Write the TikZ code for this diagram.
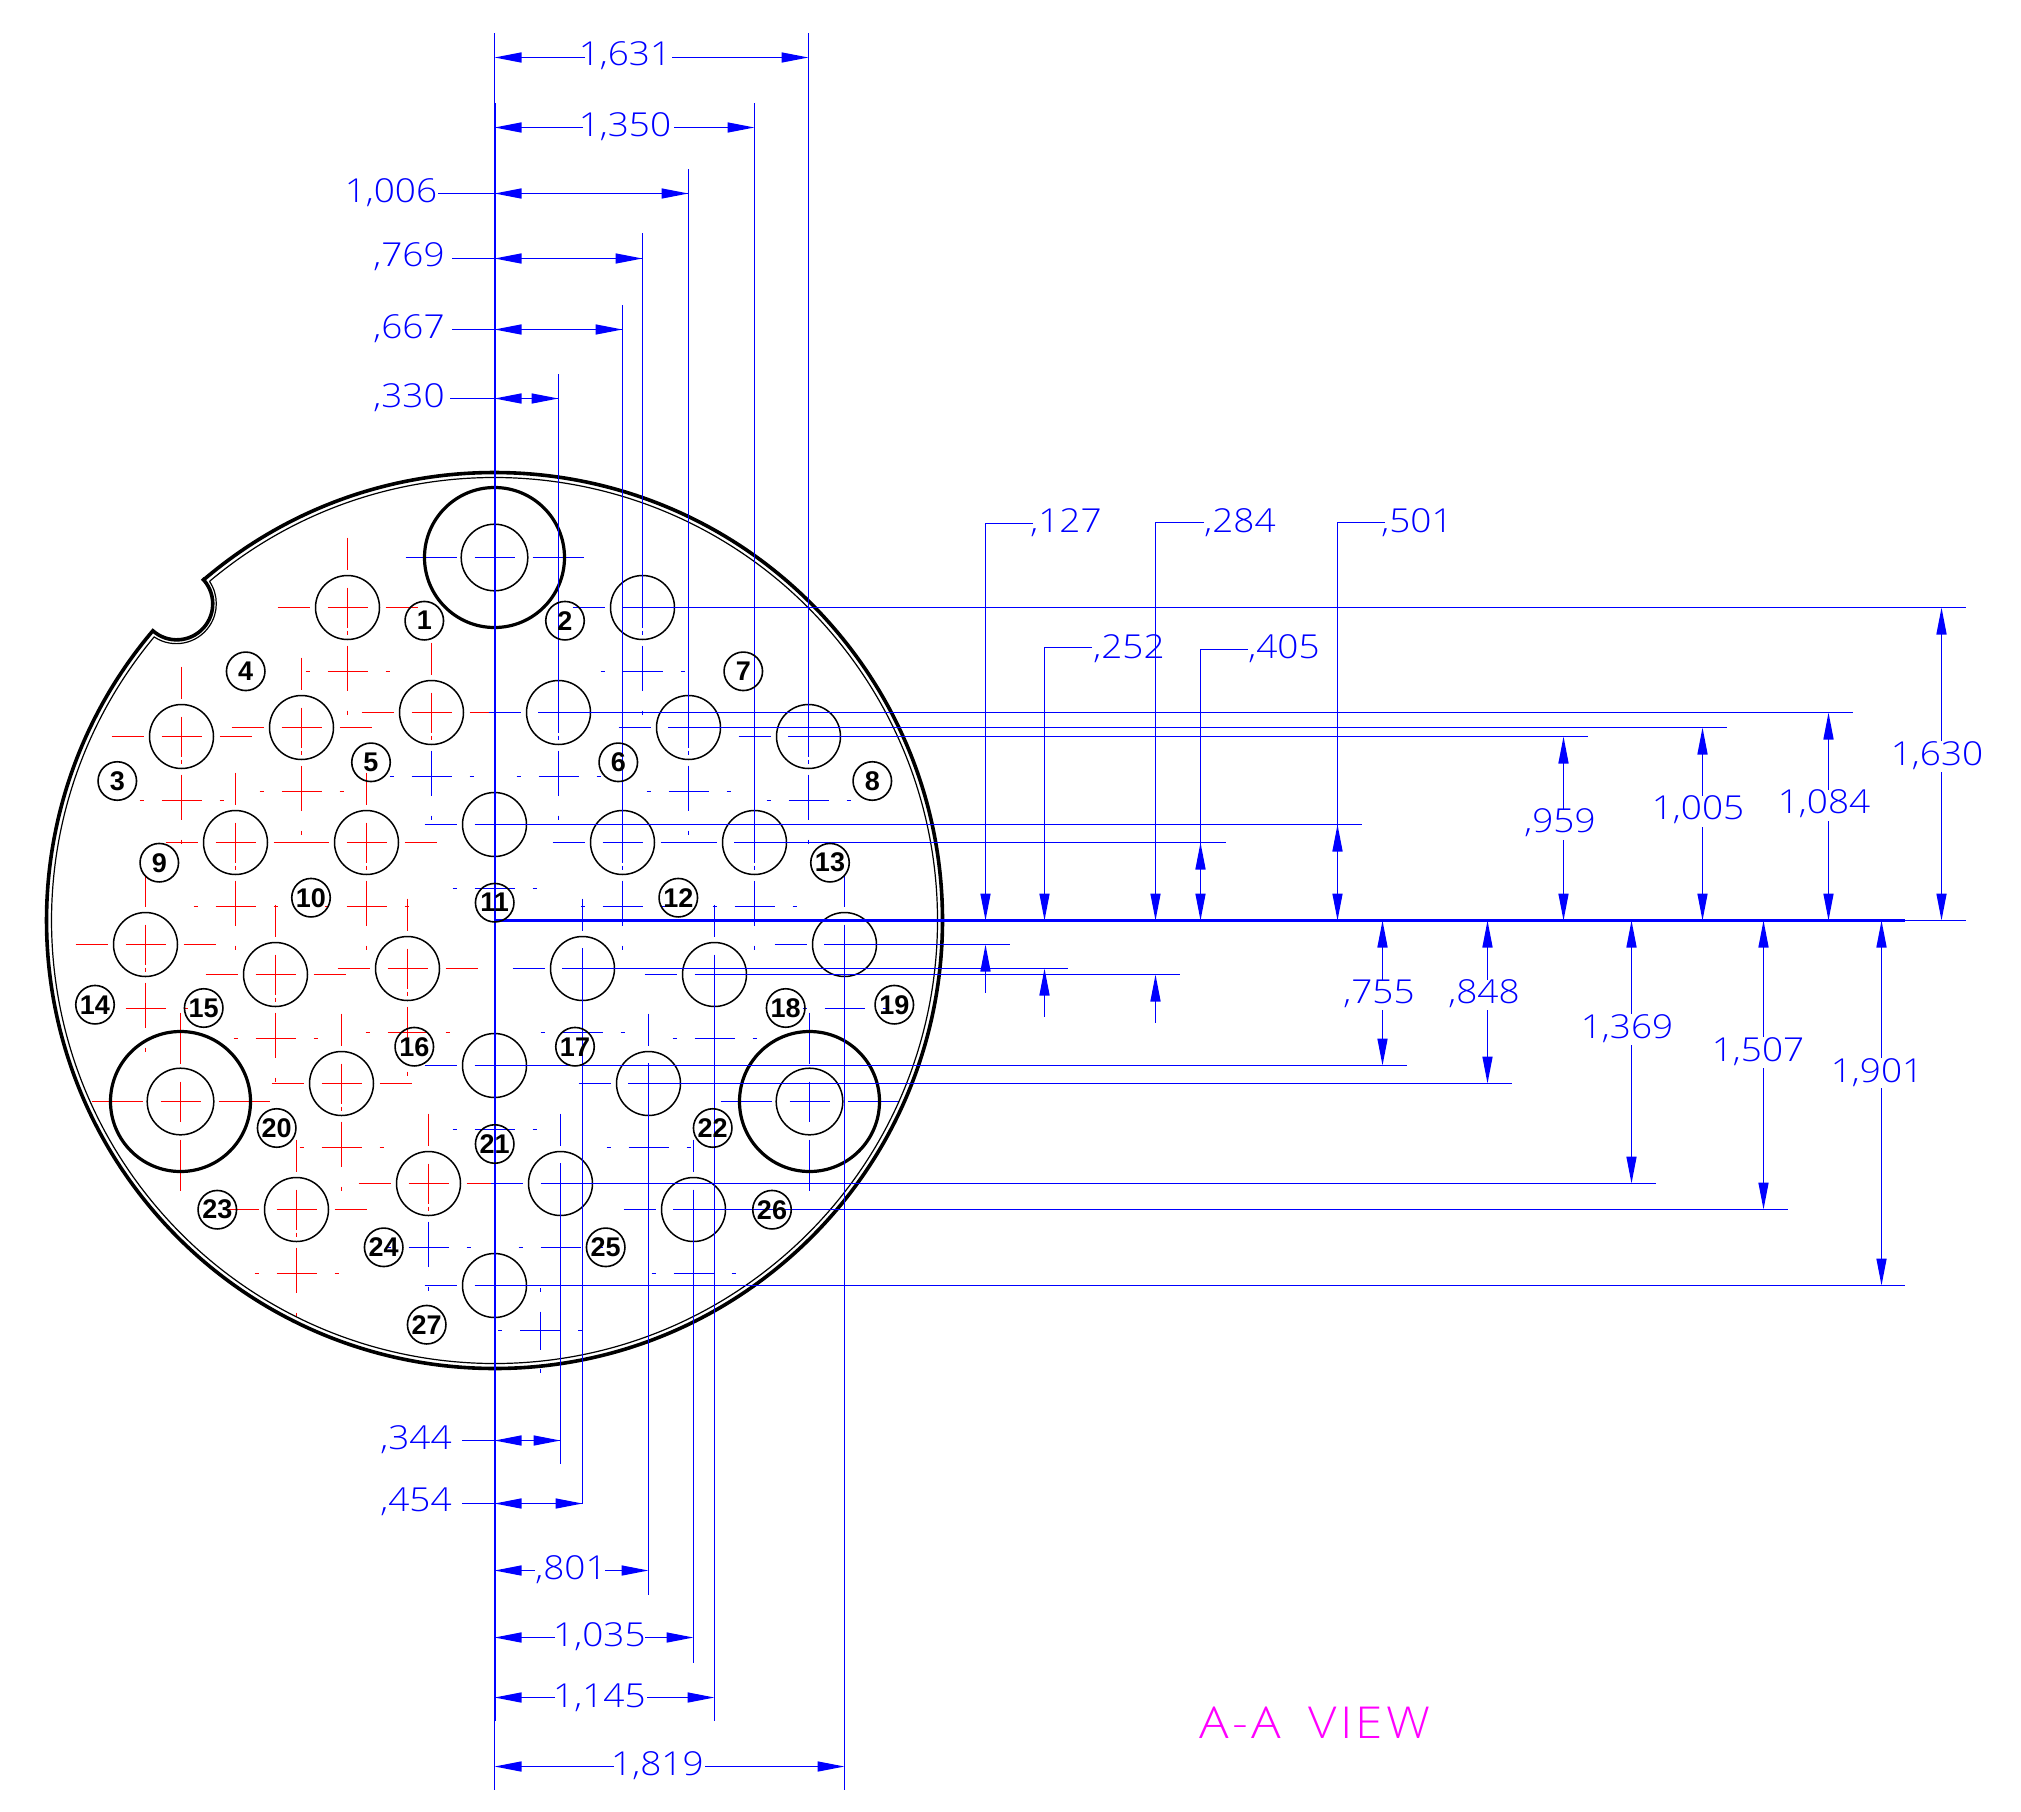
\documentclass[tikz,border=0pt]{standalone}
\usepackage{fontspec}
\usetikzlibrary{arrows.meta}
\newfontfamily\cadf{Open Sans Light}[FakeStretch=1.12]
\newfontfamily\viewf{Open Sans Light}[FakeStretch=1.12,LetterSpace=7]
\newfontfamily\numf{Liberation Sans}
\definecolor{dimblue}{RGB}{0,0,255}
\definecolor{markred}{RGB}{255,0,0}
\definecolor{viewmag}{RGB}{255,0,255}
\tikzset{
  dimline/.style={draw=dimblue,line width=1.5pt},
  tiptri/.style={-{Triangle[length=27pt,width=10pt]}},
  redmark/.style={draw=markred,line width=1.3pt},
  bluemark/.style={draw=dimblue,line width=1.3pt},
  holeline/.style={draw=black,line width=1.5pt},
  ringline/.style={draw=black,line width=3.2pt},
  dimlab/.style={inner sep=0pt,anchor=base,text=dimblue,font=\cadf\fontsize{33}{33}\selectfont},
  numlab/.style={draw=black,line width=1.6pt,circle,minimum size=38.5pt,inner sep=0pt,font=\numf\bfseries\fontsize{27}{27}\selectfont}
}
\newcommand\primarymark[3]{\draw[#3] (#1-70,#2)--(#1-38,#2) (#1+38,#2)--(#1+70,#2) (#1-20,#2)--(#1+20,#2)
  (#1,#2-70)--(#1,#2-38) (#1,#2-20)--(#1,#2+20) (#1,#2+23)--(#1,#2+27);}
\newcommand\lowermark[3]{\draw[#3] (#1,#2+38)--(#1,#2+83) (#1,#2+103)--(#1,#2+107)
  (#1-20,#2+64)--(#1+20,#2+64) (#1-42,#2+64)--(#1-38,#2+64) (#1+38,#2+64)--(#1+42,#2+64);}
\newcommand\ringmark[3]{\draw[#3] (#1-89,#2)--(#1-38,#2) (#1+38,#2)--(#1+89,#2) (#1-20,#2)--(#1+20,#2)
  (#1,#2-89)--(#1,#2-38) (#1,#2+38)--(#1,#2+89) (#1,#2-20)--(#1,#2+20);}
% vertical dimension: x, tip1, end of part 1, start of part 2, tip2
\newcommand\vdim[5]{\draw[dimline,tiptri] (#1,#3)--(#1,#2); \draw[dimline,tiptri] (#1,#4)--(#1,#5);}
\newcommand\hdim[5]{\draw[dimline,tiptri] (#3,#1)--(#2,#1); \draw[dimline,tiptri] (#4,#1)--(#5,#1);}
\newcommand\dimlabel[4]{\node[dimlab] (#1) at (#2,#3+12) {#4};}
\begin{document}
\begin{tikzpicture}[x=1pt,y=1pt,yscale=-1]
\useasboundingbox (0,0) rectangle (2021,1812);
\fill[white] (0,0) rectangle (2021,1812);

% centre marks
\foreach \x/\y in {347.5/607.5,301.5/727.5,181.5/736.5,235.5/842.5,366.5/842.5,145.5/944.5,275.5/974.5,407.5/968.5,341.5/1083.5,296.5/1209.5}{
  \primarymark{\x}{\y}{redmark}\lowermark{\x}{\y}{redmark}}
\foreach \x/\y in {431.5/712.5,428.5/1183.5}{
  \primarymark{\x}{\y}{redmark}\lowermark{\x}{\y}{bluemark}}
\foreach \x/\y in {494.5/824.5,494.5/1065.5,642.5/607.5,558.5/712.5,688.5/727.5,808.5/736.5,622.5/842.5,754.5/842.5,844.5/944.5,582.5/968.5,714.5/974.5,648.5/1083.5,560.5/1183.5,693.5/1209.5}{
  \primarymark{\x}{\y}{bluemark}\lowermark{\x}{\y}{bluemark}}
\primarymark{494.5}{1285.5}{bluemark}
\draw[bluemark] (540.5,1288)--(540.5,1292) (540.5,1311.7)--(540.5,1350) (540.5,1368.7)--(540.5,1372.7)
  (520,1330.5)--(560,1330.5) (498,1330.5)--(502,1330.5) (578,1330.5)--(582,1330.5);
\ringmark{180.5}{1101.5}{redmark}
\ringmark{494.5}{557.5}{bluemark}
\ringmark{809.5}{1101.5}{bluemark}

% plate outline
\draw[black,line width=3.6pt,line join=miter] (494.5,920.5)+(229.6:448) arc[start angle=229.6,end angle=580.3,radius=448]
  arc[start angle=131.6,end angle=-45,radius=36];
\draw[black,line width=1.2pt] (494.5,920.5)+(230:443) arc[start angle=230,end angle=579.8,radius=443]
  arc[start angle=123.6,end angle=-34,radius=40];

% holes
\foreach \x/\y in {347.5/607.5,431.5/712.5,301.5/727.5,181.5/736.5,235.5/842.5,366.5/842.5,494.5/824.5,642.5/607.5,558.5/712.5,688.5/727.5,808.5/736.5,622.5/842.5,754.5/842.5,844.5/944.5,145.5/944.5,275.5/974.5,407.5/968.5,341.5/1083.5,494.5/1065.5,428.5/1183.5,296.5/1209.5,494.5/1285.5,582.5/968.5,714.5/974.5,648.5/1083.5,560.5/1183.5,693.5/1209.5}{
  \draw[holeline] (\x,\y) circle (32);}
\foreach \x/\y in {494.5/557.5,180.5/1101.5,809.5/1101.5}{
  \draw[ringline] (\x,\y) circle (70);
  \draw[holeline] (\x,\y) circle (33.3);}

% datum lines
\draw[dimline] (494.5,33)--(494.5,1790);
\draw[dimblue,line width=2.4pt] (494.8,103)--(494.8,1721);
\draw[dimline] (494.5,920.5)--(1966,920.5);
\draw[dimblue,line width=2.2pt] (494.5,920.5)--(1905,920.5);

% vertical extension lines
\draw[dimline] (808.5,33)--(808.5,756) (754.5,103)--(754.5,862) (688.5,169)--(688.5,747) (642.5,233)--(642.5,627)
  (622.5,305)--(622.5,862) (558.5,374)--(558.5,732)
  (560.5,1163)--(560.5,1464) (582.5,948)--(582.5,1503) (648.5,1063)--(648.5,1594.5)
  (693.5,1190)--(693.5,1663) (714.5,955)--(714.5,1721) (844.5,925)--(844.5,1790);
% horizontal extension lines
\draw[dimline] (622,607.5)--(1966,607.5) (538,712.5)--(1853,712.5) (668,727.5)--(1727,727.5) (788,736.5)--(1588,736.5)
  (475,824.5)--(1362,824.5) (734,842.5)--(1226,842.5) (824,944.5)--(1010,944.5) (562,968.5)--(1068,968.5)
  (695,974.5)--(1180,974.5) (475,1065.5)--(1407,1065.5) (628,1083.5)--(1512,1083.5)
  (541,1183.5)--(1656,1183.5) (673,1209.5)--(1787.5,1209.5) (475,1285.5)--(1905,1285.5);

% top dimensions
\hdim{57.5}{494.5}{585}{672}{808.5}
\hdim{127.5}{494.5}{583}{674}{754.5}
\draw[dimline,tiptri] (688.5,193.5)--(494.5,193.5); \draw[dimline,tiptri] (494.5,193.5)--(688.5,193.5);
\draw[dimline] (438,193.5)--(494.5,193.5);
\draw[dimline,tiptri] (642.5,258.5)--(494.5,258.5); \draw[dimline,tiptri] (494.5,258.5)--(642.5,258.5);
\draw[dimline] (452,258.5)--(494.5,258.5);
\draw[dimline,tiptri] (622.5,329.5)--(494.5,329.5); \draw[dimline,tiptri] (494.5,329.5)--(622.5,329.5);
\draw[dimline] (452,329.5)--(494.5,329.5);
\draw[dimline,tiptri] (558.5,398.5)--(494.5,398.5); \draw[dimline,tiptri] (494.5,398.5)--(558.5,398.5);
\draw[dimline] (450,398.5)--(494.5,398.5);
\dimlabel{d1631}{625}{53}{1,631}
\dimlabel{d1350}{625}{124}{1,350}
\dimlabel{d1006}{391}{190}{1,006}
\dimlabel{d769}{409}{254}{,769}
\dimlabel{d667}{409}{326}{,667}
\dimlabel{d330}{409}{395}{,330}

% bottom dimensions
\draw[dimline,tiptri] (560.5,1440.5)--(494.5,1440.5); \draw[dimline,tiptri] (494.5,1440.5)--(560.5,1440.5);
\draw[dimline] (462,1440.5)--(494.5,1440.5);
\draw[dimline,tiptri] (582.5,1503.5)--(494.5,1503.5); \draw[dimline,tiptri] (494.5,1503.5)--(582.5,1503.5);
\draw[dimline] (462,1503.5)--(494.5,1503.5);
\hdim{1570.5}{494.5}{535}{605}{648.5}
\hdim{1637.5}{494.5}{555}{645}{693.5}
\hdim{1697.5}{494.5}{555}{647}{714.5}
\hdim{1766.5}{494.5}{614}{705}{844.5}
\dimlabel{d344}{416}{1437}{,344}
\dimlabel{d454}{416}{1499}{,454}
\dimlabel{d801}{571}{1567.5}{,801}
\dimlabel{d1035}{599.4}{1634.5}{1,035}
\dimlabel{d1145}{599.4}{1695}{1,145}
\dimlabel{d1819}{657.4}{1763}{1,819}

% leader dimensions
\draw[dimline,tiptri] (1033,523.5)--(985.5,523.5)--(985.5,920.5);
\draw[dimline,tiptri] (985.5,992.5)--(985.5,944.5);
\draw[dimline,tiptri] (1092,647.5)--(1044.5,647.5)--(1044.5,920.5);
\draw[dimline,tiptri] (1044.5,1016.8)--(1044.5,968.5);
\draw[dimline,tiptri] (1204,522.5)--(1155.5,522.5)--(1155.5,920.5);
\draw[dimline,tiptri] (1155.5,1022.5)--(1155.5,974.5);
\draw[dimline,tiptri] (1248,649.5)--(1200.5,649.5)--(1200.5,920.5);
\draw[dimline,tiptri] (1200.5,920.5)--(1200.5,842.5);
\draw[dimline,tiptri] (1385,522.5)--(1337.5,522.5)--(1337.5,920.5);
\draw[dimline,tiptri] (1337.5,920.5)--(1337.5,824.5);
\dimlabel{d127}{1066}{520}{,127}
\dimlabel{d284}{1240}{520}{,284}
\dimlabel{d501}{1417}{520}{,501}
\dimlabel{d252}{1129}{646}{,252}
\dimlabel{d405}{1284}{646}{,405}

% right dimensions
\vdim{1563.5}{736.5}{809}{840}{920.5}
\vdim{1702.5}{727.5}{796}{827}{920.5}
\vdim{1828.5}{712.5}{790}{821}{920.5}
\vdim{1941.5}{607.5}{741}{772}{920.5}
\vdim{1382.5}{920.5}{980}{1010}{1065.5}
\vdim{1487.5}{920.5}{980}{1010}{1083.5}
\vdim{1631.5}{920.5}{1014}{1045}{1183.5}
\vdim{1763.5}{920.5}{1037}{1068}{1209.5}
\vdim{1881.5}{920.5}{1058}{1088}{1285.5}
\dimlabel{d959}{1560}{820.7}{,959}
\dimlabel{d1005}{1698}{807}{1,005}
\dimlabel{d1084}{1824}{801.5}{1,084}
\dimlabel{d1630}{1937}{753.6}{1,630}
\dimlabel{d755}{1379}{991}{,755}
\dimlabel{d848}{1484}{991}{,848}
\dimlabel{d1369}{1627}{1026}{1,369}
\dimlabel{d1507}{1758}{1049}{1,507}
\dimlabel{d1901}{1877}{1070}{1,901}

% numbered balloons
\foreach \n/\x/\y in {1/424.3/620.7,2/565/620.7,3/117.3/781,4/245.7/671.3,5/371/762.3,6/618.3/762.3,7/743.3/671.3,8/872.3/781,9/159.3/862.7,10/311/897.7,11/494.7/902.7,12/678.3/897.7,13/830/862.7,14/95/1004.7,15/203.7/1008,16/414.3/1046.7,17/575/1046.7,18/785.7/1008,19/894.3/1004.7,20/276.7/1128,21/494.7/1144,22/712.7/1128,23/217.3/1209.7,24/383.7/1247.3,25/605.7/1247.3,26/772/1209.7,27/426.7/1324.7}{
  \node[numlab] (n\n) at (\x,\y) {\n};}

\node[inner sep=0pt,text=viewmag,font=\viewf\fontsize{44}{44}\selectfont] (viewtitle) at (1315,1723) {A-A\hspace{28pt}VIEW};
\end{tikzpicture}
\end{document}
